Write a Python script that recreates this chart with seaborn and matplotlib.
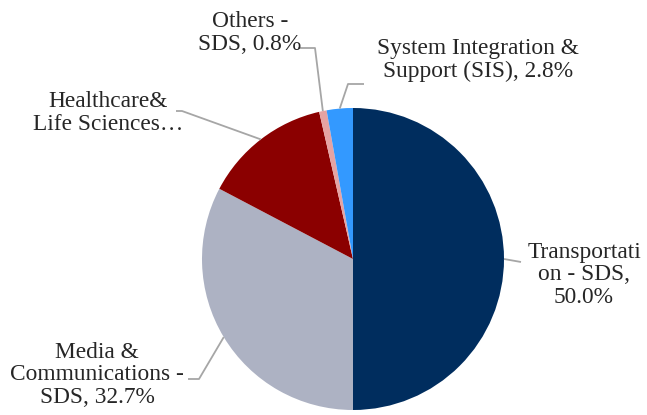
import numpy as np
import matplotlib
matplotlib.use("Agg")
import matplotlib.pyplot as plt
import seaborn as sns

# ---- data ----
labels = ["Transportati\non - SDS,\n50.0%",
          "Media &\nCommunications -\nSDS, 32.7%",
          "Healthcare&\nLife Sciences…",
          "Others -\nSDS, 0.8%",
          "System Integration &\nSupport (SIS), 2.8%"]
values = [50.0, 32.7, 13.7, 0.8, 2.8]
colors = ["#002D5E", "#ADB2C3", "#8B0000", "#E6A3A3", "#3399FF"]

sns.set_theme(style="white")
plt.rcParams["font.family"] = ["Liberation Serif", "DejaVu Serif"]

W, H = 647, 415
fig = plt.figure(figsize=(W / 100, H / 100), dpi=100)
cx, cy, R = 353, 259, 151
ax = fig.add_axes([(cx - R) / W, (H - cy - R) / H, 2 * R / W, 2 * R / H])
wedges, _ = ax.pie(values, colors=colors, startangle=90, counterclock=False,
                   radius=1.0, wedgeprops=dict(linewidth=0))
ax.set_xlim(-1, 1)
ax.set_ylim(-1, 1)
ax.set_aspect("equal")
ax.axis("off")

def px(x, y):
    return ((x - cx) / R, (cy - y) / R)

# label layout (pixel positions: text center, leader path from text to wedge)
layout = [
    dict(text=(584, 275), path=[(521, 262)]),
    dict(text=(97, 375), path=[(188, 379), (199, 379)]),
    dict(text=(108, 113), path=[(176, 111), (182, 111)]),
    dict(text=(250, 33), path=[(298, 48), (315, 48)]),
    dict(text=(478, 60), path=[(364, 84), (348, 84)]),
]

for w, lab, lay in zip(wedges, labels, layout):
    ang = np.deg2rad((w.theta1 + w.theta2) / 2)
    edge = (np.cos(ang), np.sin(ang))
    pts = [px(*p) for p in lay["path"]] + [edge]
    xs, ys = zip(*pts)
    ax.plot(xs, ys, color="#A6A6A6", lw=1.3, clip_on=False, solid_capstyle="butt")
    tx, ty = px(*lay["text"])
    ax.text(tx, ty, lab, ha="center", va="center", fontsize=16.8,
            color="#262626", linespacing=1.1, clip_on=False)

fig.savefig("out.png", dpi=100)
